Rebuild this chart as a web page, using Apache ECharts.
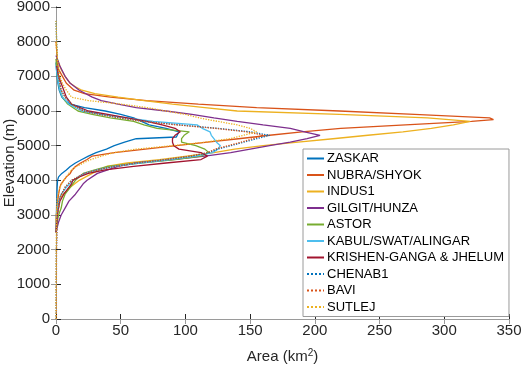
<!DOCTYPE html>
<html>
<head>
<meta charset="utf-8">
<script src="https://cdn.jsdelivr.net/npm/echarts@6/dist/echarts.min.js"></script>
<style>
  html, body { margin: 0; padding: 0; background: #fff; }
  #chart { width: 526px; height: 368px; }
</style>
</head>
<body>
<div id="chart"></div>
<script>
// hypsometry per basin: elevation (m) and area (km2) at that elevation
const zaskarElev = [2500, 3000, 3500, 3800, 4000, 4100, 4200, 4300, 4400, 4500, 4600, 4700, 4800, 4900, 5000, 5100, 5200, 5250, 5300, 5400, 5500, 5600, 5700, 5800, 5900, 6000, 6100, 6200, 6300, 6400, 6600, 6800, 7000, 7400];
const zaskarArea = [0, 0.3, 0.6, 0.9, 1.2, 2, 4.5, 8, 11, 15, 20, 25, 31, 39, 45, 53, 62, 93, 94, 95, 85, 72, 66, 60, 50, 38, 22, 11, 7, 4.5, 2.5, 1.5, 0.8, 0];

const nubraElev = [2500, 3000, 3300, 3600, 3800, 3900, 4000, 4100, 4200, 4300, 4400, 4500, 4600, 4700, 4800, 4900, 5000, 5100, 5200, 5300, 5400, 5500, 5600, 5700, 5750, 5800, 5900, 6000, 6100, 6200, 6300, 6400, 6500, 6600, 6800, 7000, 7200, 7500];
const nubraArea = [0, 0.3, 1, 2, 3, 4, 6, 8, 11, 12.5, 15, 19, 24, 28, 45, 69, 93, 117, 141, 165, 190, 220, 270, 321, 338, 335, 277, 219, 155, 110, 70, 42, 22, 14, 8, 5, 2, 0.3];

const indusElev = [2800, 3200, 3500, 3800, 4000, 4200, 4400, 4500, 4600, 4700, 4800, 4900, 5000, 5100, 5200, 5300, 5400, 5500, 5600, 5700, 5800, 5900, 6000, 6100, 6200, 6300, 6400, 6500, 6600, 6700, 6800, 7000, 7200, 7500, 8000];
const indusArea = [0, 1, 3, 11, 18, 28, 39, 55, 80, 101, 122, 138, 160, 187, 214, 241, 268, 290, 307, 320, 287, 219, 140, 115, 90, 68, 48, 30, 20, 15, 11, 7, 4, 1, 0];

const gilgitElev = [2500, 2800, 3000, 3200, 3400, 3600, 3800, 3900, 4000, 4200, 4400, 4500, 4600, 4700, 4800, 4900, 5000, 5100, 5200, 5300, 5400, 5500, 5600, 5700, 5800, 5900, 6000, 6100, 6200, 6300, 6400, 6600, 6800, 7000, 7300, 7600];
const gilgitArea = [0, 2, 4, 7, 10, 15, 19, 21, 24, 32, 48, 62, 90, 115, 135, 150, 165, 181, 194, 204, 192, 181, 160, 140, 122, 105, 85, 62, 48, 35, 28, 18, 11, 7, 3, 0];

const astorElev = [2500, 2800, 3000, 3200, 3400, 3600, 3800, 4000, 4200, 4300, 4400, 4500, 4600, 4700, 4800, 4900, 5000, 5100, 5200, 5300, 5400, 5500, 5600, 5700, 5800, 5900, 6000, 6200, 6400, 6600, 7000, 7500];
const astorArea = [0, 1, 2, 4, 5, 7, 11, 15, 21, 30, 40, 65, 92, 112, 118, 115, 108, 97, 97, 99, 103, 78, 68, 60, 42, 28, 17, 9, 5, 3, 1, 0];

const kabulElev = [2500, 3000, 3400, 3600, 3800, 4000, 4200, 4300, 4400, 4500, 4600, 4700, 4800, 4900, 5000, 5100, 5200, 5300, 5400, 5500, 5600, 5700, 5800, 5900, 6000, 6200, 6400, 6600, 7000, 7300];
const kabulArea = [0, 0.5, 2, 4, 8, 13, 22, 32, 45, 65, 88, 108, 121, 125, 127, 124, 122, 120, 119, 113, 109, 75, 55, 35, 20, 10, 5, 3, 1, 0];

const krishenElev = [2500, 3000, 3400, 3600, 3800, 3900, 4000, 4100, 4200, 4300, 4400, 4500, 4600, 4700, 4800, 4900, 5000, 5100, 5200, 5300, 5400, 5500, 5600, 5700, 5800, 5900, 6000, 6200, 6400, 6600, 6800, 7000, 7300];
const krishenArea = [0, 1, 3, 6, 10, 12, 13, 18, 25, 38, 60, 85, 112, 117, 112, 95, 91, 90, 90, 92, 96, 92, 82, 70, 55, 40, 25, 12, 8, 6, 4, 2, 0.5];

const chenabElev = [0, 2000, 3000, 3500, 3800, 4000, 4200, 4300, 4400, 4500, 4600, 4700, 4800, 4900, 5000, 5100, 5200, 5300, 5400, 5500, 5600, 5700, 5800, 5900, 6000, 6200, 6400, 6600, 7000, 7500, 8000, 8600];
const chenabArea = [0, 0.3, 1, 3, 7, 12, 22, 32, 45, 62, 85, 105, 118, 125, 135, 145, 155, 165, 150, 125, 95, 68, 50, 35, 22, 12, 7, 4, 2, 1, 0.5, 0];

const baviElev = [0, 1000, 2000, 3000, 3500, 3800, 4000, 4200, 4300, 4400, 4500, 4600, 4700, 4800, 4900, 5000, 5100, 5200, 5300, 5400, 5500, 5600, 5700, 5800, 5900, 6000, 6200, 6400, 6600, 7000, 7500, 8000];
const baviArea = [0.3, 0.3, 0.4, 1, 3, 7, 12, 22, 32, 45, 62, 85, 104, 117, 123, 133, 143, 152, 160, 147, 123, 93, 67, 49, 34, 21, 12, 7, 4, 2, 1, 0];

const sutlejElev = [0, 2000, 3000, 3500, 3800, 4000, 4200, 4300, 4400, 4500, 4600, 4700, 4800, 4900, 5000, 5100, 5200, 5300, 5400, 5500, 5600, 5700, 5800, 5900, 6000, 6100, 6200, 6300, 6400, 6600, 6800, 7000, 7500, 8000, 8600];
const sutlejArea = [0, 0.2, 0.3, 1, 3, 6, 10, 12, 16, 21, 27, 35, 45, 62, 90, 115, 134, 145, 155, 150, 140, 125, 111, 100, 85, 70, 50, 25, 12, 8, 5, 3, 1, 0.5, 0];

const basinNames = ['ZASKAR', 'NUBRA/SHYOK', 'INDUS1', 'GILGIT/HUNZA', 'ASTOR', 'KABUL/SWAT/ALINGAR',
  'KRISHEN-GANGA & JHELUM', 'CHENAB1', 'BAVI', 'SUTLEJ'];
const xTicks = [0, 50, 100, 150, 200, 250, 300, 350];
const yTicks = [0, 1000, 2000, 3000, 4000, 5000, 6000, 7000, 8000, 9000];

const basins = [
  [zaskarElev, zaskarArea, '#0072BD', 'solid'],
  [nubraElev, nubraArea, '#D95319', 'solid'],
  [indusElev, indusArea, '#EDB120', 'solid'],
  [gilgitElev, gilgitArea, '#7E2F8E', 'solid'],
  [astorElev, astorArea, '#77AC30', 'solid'],
  [kabulElev, kabulArea, '#4DBEEE', 'solid'],
  [krishenElev, krishenArea, '#A2142F', 'solid'],
  [chenabElev, chenabArea, '#0072BD', 'dotted'],
  [baviElev, baviArea, '#D95319', 'dotted'],
  [sutlejElev, sutlejArea, '#EDB120', 'dotted']
];

const font = 'Liberation Sans';
const axisColor = '#262626';

const series = basins.map((b, i) => ({
  name: basinNames[i],
  type: 'line',
  symbol: 'none',
  showSymbol: false,
  data: b[0].map((e, j) => [b[1][j], e]),
  lineStyle: { color: b[2], width: 1.3, type: b[3] },
  itemStyle: { color: b[2] },
  z: 2 + i
}));

const chart = echarts.init(document.getElementById('chart'));
chart.setOption({
  animation: false,
  textStyle: { fontFamily: font },
  grid: { left: 56, right: 17, top: 7, bottom: 49, containLabel: false, outerBoundsMode: 'none' },
  legend: {
    orient: 'vertical',
    left: 303,
    top: 149,
    data: basinNames,
    itemWidth: 17,
    itemHeight: 10,
    itemGap: 3.5,
    padding: [3, 5, 3, 3],
    borderColor: '#9a9a9a',
    borderWidth: 1,
    backgroundColor: '#fff',
    itemStyle: { opacity: 0 },
    textStyle: { fontFamily: font, fontSize: 13, color: '#000', padding: [0, 0, 0, -2] }
  },
  xAxis: [{
    type: 'value',
    min: xTicks[0],
    max: xTicks[xTicks.length - 1],
    interval: 50,
    position: 'bottom',
    axisLine: { show: true, lineStyle: { color: axisColor, width: 1 } },
    axisTick: { inside: true, length: 5, lineStyle: { color: axisColor } },
    axisLabel: { fontSize: 15, color: axisColor, margin: 4, fontFamily: font, formatter: v => String(v) },
    splitLine: { show: false },
    name: 'Area (km{sup|2})',
    nameLocation: 'middle',
    nameGap: 29,
    nameMoveOverlap: false,
    nameTextStyle: {
      fontSize: 15, color: axisColor, fontFamily: font,
      rich: { sup: { fontSize: 10, fontFamily: font, color: axisColor, verticalAlign: 'top', padding: [0, 0, 8, 0] } }
    }
  }, {
    type: 'value',
    min: xTicks[0],
    max: xTicks[xTicks.length - 1],
    interval: 50,
    position: 'top',
    axisLine: { show: true, lineStyle: { color: '#9a9a9a', width: 1 } },
    axisTick: { inside: true, length: 5, lineStyle: { color: '#9a9a9a' } },
    axisLabel: { show: false },
    splitLine: { show: false }
  }],
  yAxis: [{
    type: 'value',
    min: yTicks[0],
    max: yTicks[yTicks.length - 1],
    interval: 1000,
    position: 'left',
    axisLine: { show: true, lineStyle: { color: axisColor, width: 1 } },
    axisTick: { inside: true, length: 5, lineStyle: { color: axisColor } },
    axisLabel: { fontSize: 15, color: axisColor, margin: 6, fontFamily: font, formatter: v => String(v) },
    splitLine: { show: false },
    name: 'Elevation (m)',
    nameLocation: 'middle',
    nameGap: 39,
    nameMoveOverlap: false,
    nameTextStyle: { fontSize: 15, color: axisColor, fontFamily: font }
  }, {
    type: 'value',
    min: yTicks[0],
    max: yTicks[yTicks.length - 1],
    interval: 1000,
    position: 'right',
    axisLine: { show: true, lineStyle: { color: '#9a9a9a', width: 1 } },
    axisTick: { inside: true, length: 5, lineStyle: { color: '#9a9a9a' } },
    axisLabel: { show: false },
    splitLine: { show: false }
  }],
  series: series
});
</script>
</body>
</html>
